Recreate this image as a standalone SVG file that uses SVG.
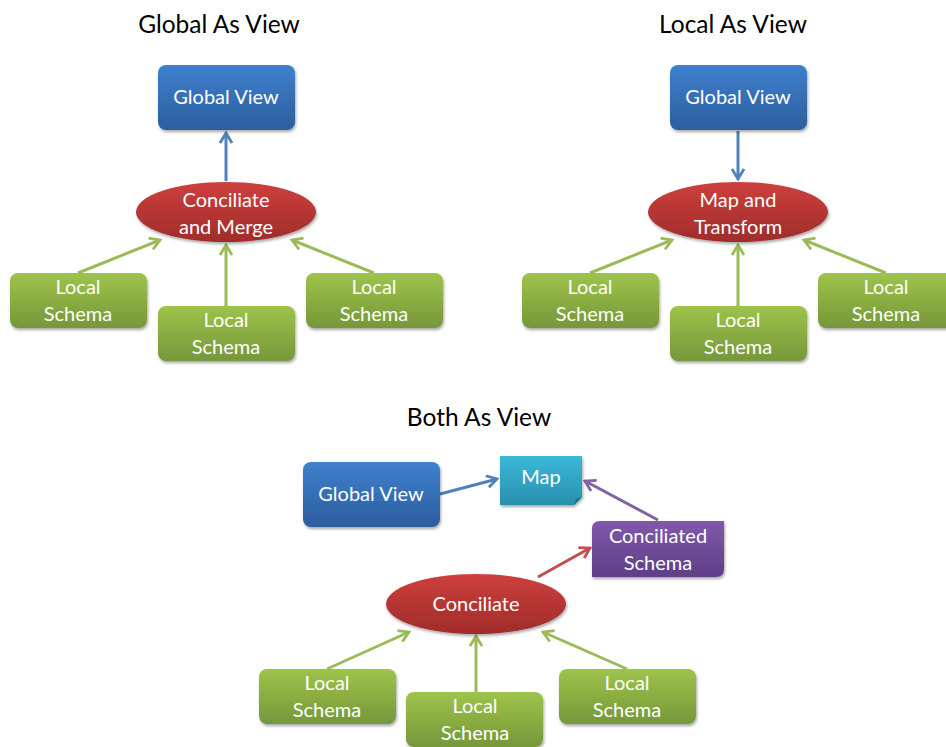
<svg xmlns="http://www.w3.org/2000/svg" width="946" height="747" viewBox="0 0 946 747">
<defs>
<linearGradient id="gBlue" x1="0" y1="0" x2="0" y2="1"><stop offset="0" stop-color="#3F80CD"/><stop offset="1" stop-color="#2C5E9F"/></linearGradient>
<linearGradient id="gRed" x1="0" y1="0" x2="0" y2="1"><stop offset="0" stop-color="#CD403D"/><stop offset="1" stop-color="#A02C2A"/></linearGradient>
<linearGradient id="gGreen" x1="0" y1="0" x2="0" y2="1"><stop offset="0" stop-color="#9DC44A"/><stop offset="1" stop-color="#76973A"/></linearGradient>
<linearGradient id="gCyan" x1="0" y1="0" x2="0" y2="1"><stop offset="0" stop-color="#3BB8D9"/><stop offset="1" stop-color="#2890AD"/></linearGradient>
<linearGradient id="gPurple" x1="0" y1="0" x2="0" y2="1"><stop offset="0" stop-color="#8158AB"/><stop offset="1" stop-color="#5E3F86"/></linearGradient>
<filter id="sh" x="-10%" y="-10%" width="130%" height="140%"><feDropShadow dx="1" dy="2" stdDeviation="1.8" flood-color="#000" flood-opacity="0.35"/></filter>
<marker id="aG" viewBox="0 0 14 14" refX="12" refY="7" markerWidth="14" markerHeight="14" markerUnits="userSpaceOnUse" orient="auto"><path d="M2,1 L12,7 L2,13" fill="none" stroke="#9BBB59" stroke-width="2.8"/></marker>
<marker id="aB" viewBox="0 0 14 14" refX="12" refY="7" markerWidth="14" markerHeight="14" markerUnits="userSpaceOnUse" orient="auto"><path d="M2,1 L12,7 L2,13" fill="none" stroke="#4F81BD" stroke-width="2.8"/></marker>
<marker id="aR" viewBox="0 0 14 14" refX="12" refY="7" markerWidth="14" markerHeight="14" markerUnits="userSpaceOnUse" orient="auto"><path d="M2,1 L12,7 L2,13" fill="none" stroke="#C0504D" stroke-width="2.8"/></marker>
<marker id="aP" viewBox="0 0 14 14" refX="12" refY="7" markerWidth="14" markerHeight="14" markerUnits="userSpaceOnUse" orient="auto"><path d="M2,1 L12,7 L2,13" fill="none" stroke="#8064A2" stroke-width="2.8"/></marker>
</defs>
<style>
text{font-family:Lato,"Open Sans","Liberation Sans",sans-serif;}
.t{font-size:24.5px;fill:#000;text-anchor:middle;}
.n{font-size:20px;fill:#fff;text-anchor:middle;}
.blue{fill:url(#gBlue);filter:url(#sh);}
.red{fill:url(#gRed);filter:url(#sh);}
.green{fill:url(#gGreen);filter:url(#sh);}
.cyan{fill:url(#gCyan);filter:url(#sh);}
.purple{fill:url(#gPurple);filter:url(#sh);}
.cg{stroke:#9BBB59;stroke-width:3;fill:none;marker-end:url(#aG);}
.cb{stroke:#4F81BD;stroke-width:3;fill:none;marker-end:url(#aB);}
.cr{stroke:#C0504D;stroke-width:3;fill:none;marker-end:url(#aR);}
.cp{stroke:#8064A2;stroke-width:3;fill:none;marker-end:url(#aP);}
</style>
<rect width="946" height="747" fill="#fff"/>
<text class="t" x="219" y="33">Global As View</text>
<text class="t" x="733" y="33">Local As View</text>
<text class="t" x="479" y="426">Both As View</text>

<g id="connectors">
<line class="cb" x1="226" y1="181" x2="226" y2="133"/>
<line class="cg" x1="78" y1="273" x2="160" y2="240"/>
<line class="cg" x1="226" y1="306" x2="226" y2="245"/>
<line class="cg" x1="374" y1="273" x2="292" y2="240"/>
<line class="cb" x1="738" y1="131" x2="738" y2="179"/>
<line class="cg" x1="590" y1="273" x2="672" y2="240"/>
<line class="cg" x1="738" y1="306" x2="738" y2="245"/>
<line class="cg" x1="886" y1="273" x2="804" y2="240"/>
<line class="cb" x1="440" y1="494" x2="497" y2="479"/>
<line class="cp" x1="658" y1="520" x2="585" y2="481"/>
<line class="cr" x1="538" y1="577" x2="590" y2="548"/>
<line class="cg" x1="327" y1="669" x2="409" y2="632"/>
<line class="cg" x1="476" y1="692" x2="476" y2="636"/>
<line class="cg" x1="627" y1="669" x2="543" y2="632"/>
</g>

<g id="gav-global"><rect class="blue" x="158" y="65" width="137" height="65" rx="8"/><text class="n" x="226" y="104">Global View</text></g>
<g id="gav-merge"><ellipse class="red" cx="226" cy="212" rx="90" ry="30"/><text class="n" x="226" y="207">Conciliate</text><text class="n" x="226" y="234">and Merge</text></g>
<g id="gav-ls1"><rect class="green" x="10" y="273" width="137" height="55" rx="8"/><text class="n" x="78" y="294">Local</text><text class="n" x="78" y="321">Schema</text></g>
<g id="gav-ls2"><rect class="green" x="158" y="306" width="137" height="55" rx="8"/><text class="n" x="226" y="327">Local</text><text class="n" x="226" y="354">Schema</text></g>
<g id="gav-ls3"><rect class="green" x="306" y="273" width="137" height="55" rx="8"/><text class="n" x="374" y="294">Local</text><text class="n" x="374" y="321">Schema</text></g>

<g id="lav-global"><rect class="blue" x="670" y="65" width="137" height="65" rx="8"/><text class="n" x="738" y="104">Global View</text></g>
<g id="lav-map"><ellipse class="red" cx="738" cy="212" rx="90" ry="30"/><text class="n" x="738" y="207">Map and</text><text class="n" x="738" y="234">Transform</text></g>
<g id="lav-ls1"><rect class="green" x="522" y="273" width="137" height="55" rx="8"/><text class="n" x="590" y="294">Local</text><text class="n" x="590" y="321">Schema</text></g>
<g id="lav-ls2"><rect class="green" x="670" y="306" width="137" height="55" rx="8"/><text class="n" x="738" y="327">Local</text><text class="n" x="738" y="354">Schema</text></g>
<g id="lav-ls3"><rect class="green" x="818" y="273" width="137" height="55" rx="8"/><text class="n" x="886" y="294">Local</text><text class="n" x="886" y="321">Schema</text></g>

<g id="bav-global"><rect class="blue" x="303" y="462" width="137" height="65" rx="8"/><text class="n" x="371" y="501">Global View</text></g>
<g id="bav-map"><path class="cyan" d="M500,456 H582 V497 L574,505 H500 Z"/><path d="M574,505 L576,499 L582,497 Z" fill="#1E6F86"/><text class="n" x="541" y="484">Map</text></g>
<g id="bav-cschema"><path class="purple" d="M600,521 H724 V569 Q724,577 716,577 H592 V529 Q592,521 600,521 Z"/><text class="n" x="658" y="543">Conciliated</text><text class="n" x="658" y="570">Schema</text></g>
<g id="bav-conciliate"><ellipse class="red" cx="476" cy="604" rx="90" ry="30"/><text class="n" x="476" y="611">Conciliate</text></g>
<g id="bav-ls1"><rect class="green" x="259" y="669" width="137" height="55" rx="8"/><text class="n" x="327" y="690">Local</text><text class="n" x="327" y="717">Schema</text></g>
<g id="bav-ls2"><rect class="green" x="406" y="692" width="137" height="55" rx="8"/><text class="n" x="475" y="713">Local</text><text class="n" x="475" y="740">Schema</text></g>
<g id="bav-ls3"><rect class="green" x="559" y="669" width="137" height="55" rx="8"/><text class="n" x="627" y="690">Local</text><text class="n" x="627" y="717">Schema</text></g>
</svg>
